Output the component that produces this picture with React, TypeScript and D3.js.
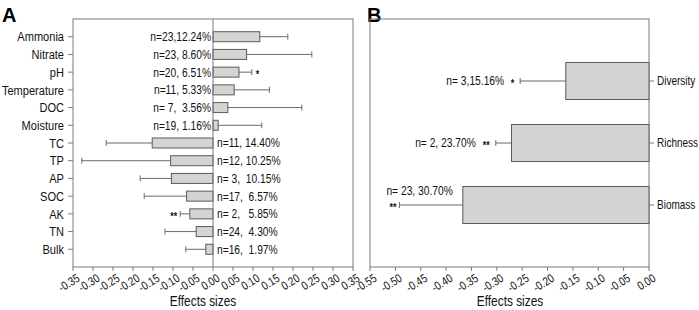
import React from "react";
import * as d3 from "d3";

const catsA = ["Ammonia", "Nitrate", "pH", "Temperature", "DOC", "Moisture", "TC", "TP", "AP", "SOC", "AK", "TN", "Bulk"];
const meanA = [0.117, 0.084, 0.065, 0.053, 0.037, 0.013, -0.152, -0.106, -0.104, -0.066, -0.058, -0.042, -0.018];
const errA = [0.187, 0.247, 0.097, 0.141, 0.222, 0.122, -0.267, -0.328, -0.182, -0.172, -0.082, -0.12, -0.068];
const labelsA = ["n=23,12.24%", "n=23, 8.60%", "n=20, 6.51%", "n=11, 5.33%", "n= 7,  3.56%", "n=19, 1.16%", "n=11, 14.40%", "n=12, 10.25%", "n= 3,  10.15%", "n=17,  6.57%", "n= 2,   5.85%", "n=24,  4.30%", "n=16,  1.97%"];
const sigA = ["", "", "*", "", "", "", "", "", "", "", "**", "", ""];
const ticksA = [-0.35, -0.3, -0.25, -0.2, -0.15, -0.1, -0.05, 0, 0.05, 0.1, 0.15, 0.2, 0.25, 0.3, 0.35];

const catsB = ["Diversity", "Richness", "Biomass"];
const meanB = [-0.164, -0.271, -0.367];
const errB = [-0.254, -0.302, -0.492];
const labelsB = ["n= 3,15.16%", "n= 2, 23.70%", "n= 23, 30.70%"];
const sigB = ["*", "**", "**"];
const ticksB = [-0.55, -0.5, -0.45, -0.4, -0.35, -0.3, -0.25, -0.2, -0.15, -0.1, -0.05, 0];

const FONT = "'Liberation Sans', Arial, sans-serif";
const SX = 0.82;
const FRAME = "#7a7a7a";
const BAR_FILL = "#d4d4d4";
const BAR_STROKE = "#5a5a5a";
const ERR = "#6a6a6a";
const TXT = "#111111";

const top = 19, bottom = 267;
const fmt = (v: number) => (Math.abs(v) < 1e-9 ? "0.00" : v.toFixed(2));

type NTProps = {
  x: number; y: number; size: number; anchor?: "start" | "middle" | "end";
  rotate?: number; dy?: string; bold?: boolean; baseline?: string; children: React.ReactNode;
};
function NT({ x, y, size, anchor = "start", rotate = 0, dy, bold, baseline, children }: NTProps) {
  return (
    <g transform={`translate(${x},${y}) rotate(${rotate}) scale(${SX},1)`}>
      <text
        x={0}
        y={0}
        dy={dy}
        textAnchor={anchor}
        dominantBaseline={baseline}
        fontSize={size}
        fontWeight={bold ? "bold" : "normal"}
        fill={TXT}
        style={{ whiteSpace: "pre" }}
      >
        {children}
      </text>
    </g>
  );
}

function XTicks({ x, ticks }: { x: d3.ScaleLinear<number, number>; ticks: number[] }) {
  return (
    <g>
      {ticks.map((t) => (
        <g key={t}>
          <line x1={x(t)} x2={x(t)} y1={bottom} y2={bottom + 4} stroke={FRAME} />
          <NT x={x(t) + 3} y={bottom + 6} rotate={-32} anchor="end" baseline="hanging" size={12}>
            {fmt(t)}
          </NT>
        </g>
      ))}
    </g>
  );
}

export default function App() {
  const xA = d3.scaleLinear().domain([-0.35, 0.35]).range([73, 353]);
  const yA = d3.scalePoint<string>().domain(catsA).range([top, bottom]).padding(1);
  const xB = d3.scaleLinear().domain([-0.55, 0]).range([370, 649]);
  const yB = d3.scalePoint<string>().domain(catsB).range([top, bottom]).padding(1);
  const hA = 10, hB = 37;

  return (
    <svg width={699} height={310} style={{ position: "absolute", left: 0, top: 0, fontFamily: FONT }}>
      <rect width={699} height={310} fill="#fff" />
      {/* Panel A */}
      <text x={2} y={22} fontSize={20} fontWeight="bold">A</text>
      <rect x={73} y={top} width={280} height={bottom - top} fill="none" stroke={FRAME} />
      {catsA.map((c, i) => {
        const cy = yA(c)!;
        const v = meanA[i], e = errA[i];
        const x0 = xA(0), x1 = xA(v), xe = xA(e);
        const pos = v >= 0;
        return (
          <g key={c}>
            <line x1={68} x2={73} y1={cy} y2={cy} stroke={FRAME} />
            <NT x={64} y={cy} dy="0.35em" anchor="end" size={13.5}>{c}</NT>
            <line x1={x1} x2={xe} y1={cy} y2={cy} stroke={ERR} />
            <line x1={xe} x2={xe} y1={cy - 3} y2={cy + 3} stroke={ERR} />
            <rect x={Math.min(x0, x1)} y={cy - hA / 2} width={Math.abs(x1 - x0)} height={hA} fill={BAR_FILL} stroke={BAR_STROKE} />
            <NT x={pos ? x0 - 2 : x0 + 4} y={cy} dy="0.35em" anchor={pos ? "end" : "start"} size={12.5}>
              {labelsA[i]}
            </NT>
            {sigA[i] && (
              <NT x={pos ? xe + 4 : xe - 3} y={cy + 6} anchor={pos ? "start" : "end"} size={11} bold>
                {sigA[i]}
              </NT>
            )}
          </g>
        );
      })}
      <line x1={xA(0)} x2={xA(0)} y1={top} y2={bottom} stroke={FRAME} />
      <XTicks x={xA} ticks={ticksA} />
      <NT x={203} y={306} anchor="middle" size={14.5}>Effects sizes</NT>

      {/* Panel B */}
      <text x={367} y={22} fontSize={20} fontWeight="bold">B</text>
      <rect x={370} y={top} width={279} height={bottom - top} fill="none" stroke={FRAME} />
      {catsB.map((c, i) => {
        const cy = yB(c)!;
        const x0 = xB(0), x1 = xB(meanB[i]), xe = xB(errB[i]);
        const above = i === catsB.length - 1;
        return (
          <g key={c}>
            <line x1={649} x2={654} y1={cy} y2={cy} stroke={FRAME} />
            <NT x={657} y={cy} dy="0.35em" size={12.2}>{c}</NT>
            <line x1={x1} x2={xe} y1={cy} y2={cy} stroke={ERR} />
            <line x1={xe} x2={xe} y1={cy - 3} y2={cy + 3} stroke={ERR} />
            <rect x={x1} y={cy - hB / 2} width={x0 - x1} height={hB} fill={BAR_FILL} stroke={BAR_STROKE} />
            {above ? (
              <>
                <NT x={xe - 13} y={cy - 10} size={12.5}>{labelsB[i]}</NT>
                <NT x={xe - 3} y={cy + 6} anchor="end" size={11} bold>{sigB[i]}</NT>
              </>
            ) : (
              <>
                <NT x={xe - 6} y={cy + 6} anchor="end" size={11} bold>{sigB[i]}</NT>
                <NT x={xe - 6 - (sigB[i].length * 4 + 6)} y={cy} dy="0.35em" anchor="end" size={12.5}>{labelsB[i]}</NT>
              </>
            )}
          </g>
        );
      })}
      <XTicks x={xB} ticks={ticksB} />
      <NT x={510} y={306} anchor="middle" size={14.5}>Effects sizes</NT>
    </svg>
  );
}
